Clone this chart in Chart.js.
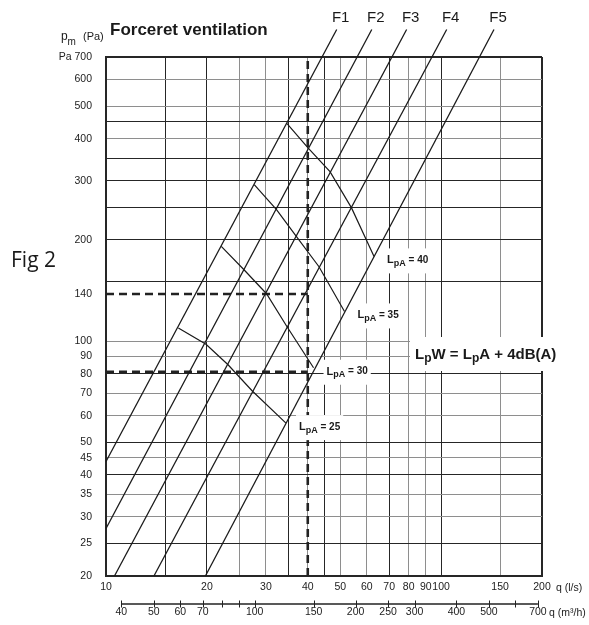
<!DOCTYPE html>
<html lang="en">
<head>
<meta charset="UTF-8">
<title>Forceret ventilation</title>
<script src="https://cdn.jsdelivr.net/npm/chart.js"></script>
<style>
    html, body { margin: 0; padding: 0; background: #fff; }
    #wrap { width: 589px; height: 625px; position: relative; }
</style>
</head>
<body>
<div id="wrap"><canvas id="fig"></canvas></div>
<script>
// q in l/s along the bottom, p in Pa up the side, both logarithmic
const qTicks = [10, 15, 20, 25, 30, 35, 40, 45, 50, 60, 70, 80, 90, 100, 150, 200];
const qTickLabels = [10, 20, 30, 40, 50, 60, 70, 80, 90, 100, 150, 200];
const qDarkLines = [15, 20, 35, 45, 70, 100];

const pTicks = [20, 25, 30, 35, 40, 45, 50, 60, 70, 80, 90, 100, 138, 150, 200, 250, 300, 350, 400, 450, 500, 600, 700];
const pLabelAt = [20, 25, 30, 35, 40, 45, 50, 60, 70, 80, 90, 100, 138, 200, 300, 400, 500, 600, 700];
const pLabelText = ['20', '25', '30', '35', '40', '45', '50', '60', '70', '80', '90', '100', '140', '200', '300', '400', '500', '600', 'Pa 700'];
const pDarkLines = [25, 40, 50, 80, 150, 200, 250, 300, 350, 450];

// second bottom scale, same flow in m3/h
const m3hTicks = [40, 50, 60, 70, 80, 90, 100, 150, 200, 250, 300, 400, 500, 600, 700];
const m3hTickLabels = [40, 50, 60, 70, 100, 150, 200, 250, 300, 400, 500, 700];

// fan / system lines F1..F5 (start point, end point above the frame)
const fanNames = ['F1', 'F2', 'F3', 'F4', 'F5'];
const fanQ = [[10, 48.8], [10, 62.1], [10.6, 78.9], [13.9, 103.9], [19.8, 143.8]];
const fanP = [[43.8, 845], [27.7, 845], [20, 845], [20, 845], [20, 845]];

// sound level curves, one point on each F line
const lpaLevels = [25, 30, 35, 40];
const lpaQ = [
    [16.44, 19.88, 23.13, 27.37, 34.44],
    [22.08, 25.81, 30.13, 34.69, 41.62],
    [27.69, 32.27, 37.02, 43.21, 51.49],
    [34.69, 40.07, 46.6, 54.03, 63.07]
];
const lpaP = [
    [109.3, 97.8, 85.0, 70.9, 57.0],
    [191.3, 163.0, 138.3, 110.3, 83.3],
    [292.0, 246.0, 204.4, 166.4, 122.5],
    [443.7, 375.6, 319.3, 249.0, 178.6]
];

// worked example: 40 l/s read across to the pressure axis
const guideQ = 40;
const guideP = [138, 81];

const SANS = '"Liberation Sans", Arial, Helvetica, sans-serif';
const DARK = '#262626';
const GREY = '#8e8e8e';

const pts = (qs, ps) => qs.map((q, i) => ({ x: q, y: ps[i] }));

const datasets = [];
fanQ.forEach((qs, i) => datasets.push({
    data: pts(qs, fanP[i]), borderColor: '#1a1a1a', borderWidth: 1.3, pointRadius: 0, clip: false
}));
const LPA0 = datasets.length;
lpaQ.forEach((qs, i) => datasets.push({
    data: pts(qs, lpaP[i]), borderColor: '#1a1a1a', borderWidth: 1.2, pointRadius: 0
}));
const dashed = { borderColor: '#222', borderWidth: 2.6, borderDash: [8, 5], pointRadius: 0 };
datasets.push(Object.assign({ data: [{ x: guideQ, y: 20 }, { x: guideQ, y: 700 }] }, dashed));
guideP.forEach(p => datasets.push(Object.assign({ data: [{ x: 10, y: p }, { x: guideQ, y: p }] }, dashed)));

function textRun(ctx, parts, x, y, draw) {
    let cx = x;
    parts.forEach(([txt, px, dy]) => {
        ctx.font = 'bold ' + px + 'px ' + SANS;
        if (draw) ctx.fillText(txt, cx, y + dy);
        cx += ctx.measureText(txt).width;
    });
    return cx - x;
}
const lpaParts = lv => [['L', 11, 0], ['pA', 9, 3], [' = ' + lv, 10, 0]];
const lpwParts = [['L', 15, 0], ['p', 12, 4], ['W = L', 15, 0], ['p', 12, 4], ['A + 4dB(A)', 15, 0]];

function lpaAnchor(chart, i) {
    const pt = chart.getDatasetMeta(LPA0 + i).data[lpaQ[i].length - 1];
    return { x: pt.x + 13, y: pt.y + 4 };
}

const annotate = {
    id: 'annotate',
    afterDatasetsDraw(chart) {
        const ctx = chart.ctx;
        ctx.save();
        ctx.textBaseline = 'middle';

        // white patches behind the labels, the print breaks the grid there
        ctx.fillStyle = '#fff';
        lpaLevels.forEach((lv, i) => {
            const a = lpaAnchor(chart, i);
            const w = textRun(ctx, lpaParts(lv), a.x, a.y, false);
            ctx.fillRect(a.x - 3, a.y - 12, w + 6, 25);
        });
        const wl = textRun(ctx, lpwParts, 415, 355, false);
        ctx.fillRect(410, 337, wl + 10, 34);

        ctx.fillStyle = '#1a1a1a';
        lpaLevels.forEach((lv, i) => {
            const a = lpaAnchor(chart, i);
            textRun(ctx, lpaParts(lv), a.x, a.y, true);
        });
        textRun(ctx, lpwParts, 415, 355, true);

        ctx.font = '15px ' + SANS;
        ctx.textAlign = 'center';
        fanNames.forEach((name, i) => {
            const top = chart.getDatasetMeta(i).data[1];
            ctx.fillText(name, top.x + 4, top.y - 12);
        });

        ctx.textAlign = 'left';
        ctx.textBaseline = 'alphabetic';
        ctx.font = 'bold 17px ' + SANS;
        ctx.fillText('Forceret ventilation', 110, 35);
        ctx.font = '12px ' + SANS;
        ctx.fillText('p', 61, 40);
        ctx.font = '10px ' + SANS;
        ctx.fillText('m', 67.5, 45);
        ctx.font = '11px ' + SANS;
        ctx.fillText('(Pa)', 83, 40);
        ctx.font = '21px "Open Sans", "Noto Sans", sans-serif';
        ctx.fillText('Fig 2', 11, 267);

        ctx.textBaseline = 'middle';
        ctx.font = '10.5px ' + SANS;
        ctx.fillStyle = '#222';
        ctx.fillText('q (l/s)', 556, 588);
        ctx.fillText('q (m\u00b3/h)', 549, 613);

        // m3/h axis line with its tick marks
        const x2 = chart.scales.x2;
        const y0 = x2.top + 6;
        ctx.strokeStyle = '#222';
        ctx.lineWidth = 1.5;
        ctx.beginPath();
        ctx.moveTo(x2.getPixelForValue(m3hTicks[0]), y0);
        ctx.lineTo(x2.getPixelForValue(m3hTicks[m3hTicks.length - 1]), y0);
        ctx.stroke();
        ctx.lineWidth = 1;
        ctx.beginPath();
        m3hTicks.forEach(v => {
            const px = Math.round(x2.getPixelForValue(v)) + 0.5;
            ctx.moveTo(px, y0 - 3.5);
            ctx.lineTo(px, y0 + 3.5);
        });
        ctx.stroke();
        ctx.restore();
    }
};

const tickFont = { family: SANS, size: 10.5 };

new Chart(document.getElementById('fig'), {
    type: 'line',
    data: { datasets },
    plugins: [annotate],
    options: {
        responsive: true,
        maintainAspectRatio: false,
        animation: false,
        layout: { padding: { top: 57, right: 47, bottom: 0, left: 0 } },
        plugins: { legend: { display: false }, tooltip: { enabled: false } },
        scales: {
            x: {
                type: 'logarithmic',
                position: 'bottom',
                min: 10,
                max: 200,
                afterBuildTicks: s => { s.ticks = qTicks.map(v => ({ value: v })); },
                afterFit: s => { s.height = 22; },
                ticks: {
                    autoSkip: false, maxRotation: 0, padding: 5, color: '#222', font: tickFont,
                    callback: v => qTickLabels.includes(v) ? String(v) : ''
                },
                grid: {
                    drawTicks: false,
                    color: c => {
                        const v = c.tick && c.tick.value;
                        if (v === 10) return 'rgba(0,0,0,0)';
                        if (v === 200) return DARK;
                        return qDarkLines.includes(v) ? DARK : GREY;
                    },
                    lineWidth: c => (c.tick && c.tick.value === 200) ? 2 : 1
                },
                border: { display: true, color: DARK, width: 2 }
            },
            x2: {
                type: 'logarithmic',
                position: 'bottom',
                min: 36,
                max: 720,
                afterBuildTicks: s => { s.ticks = m3hTicks.map(v => ({ value: v })); },
                afterFit: s => { s.height = 27; },
                ticks: {
                    autoSkip: false, maxRotation: 0, padding: 8, color: '#222', font: tickFont,
                    callback: v => m3hTickLabels.includes(v) ? String(v) : ''
                },
                grid: { display: false, drawTicks: false },
                border: { display: false }
            },
            y: {
                type: 'logarithmic',
                position: 'left',
                min: 20,
                max: 700,
                afterBuildTicks: s => { s.ticks = pTicks.map(v => ({ value: v })); },
                afterFit: s => { s.width = 106; },
                ticks: {
                    autoSkip: false, padding: 14, color: '#222', font: tickFont,
                    callback: v => {
                        const k = pLabelAt.indexOf(v);
                        return k < 0 ? '' : pLabelText[k];
                    }
                },
                grid: {
                    drawTicks: false,
                    color: c => {
                        const v = c.tick && c.tick.value;
                        if (v === 20 || v === 138) return 'rgba(0,0,0,0)';
                        if (v === 700) return DARK;
                        return pDarkLines.includes(v) ? DARK : GREY;
                    },
                    lineWidth: c => (c.tick && c.tick.value === 700) ? 2 : 1
                },
                border: { display: true, color: DARK, width: 2 }
            }
        }
    }
});
</script>
</body>
</html>
